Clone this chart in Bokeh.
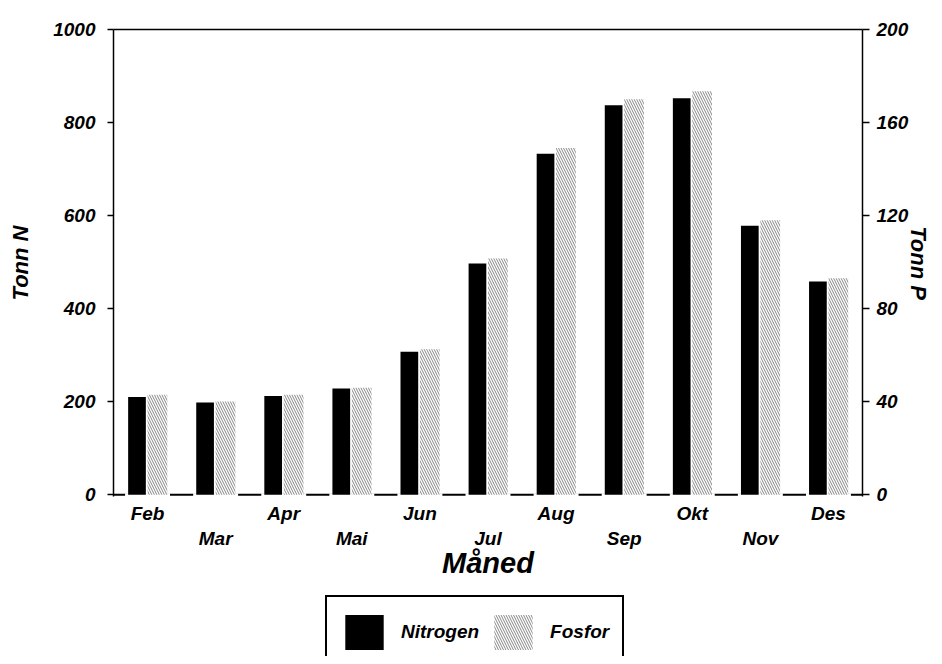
from bokeh.plotting import figure
from bokeh.layouts import column
from bokeh.models import (Range1d, LinearAxis, FixedTicker, Legend, LegendItem,
                          ColumnDataSource, Span)
from bokeh.embed import file_html
from bokeh.resources import INLINE
import numpy as np

months = ["Feb", "Mar", "Apr", "Mai", "Jun", "Jul", "Aug", "Sep", "Okt", "Nov", "Des"]
nitrogen = [210, 198, 212, 228, 307, 497, 733, 837, 852, 578, 458]
fosfor = [43, 40, 43, 46, 62.5, 101.5, 149, 170, 173.5, 118, 93]
n_ticks = [0, 200, 400, 600, 800, 1000]
p_ticks = [0, 40, 80, 120, 160, 200]

FONT = "Liberation Sans"
N_MIN = -4
x = np.arange(len(months))

W = 934
H1 = 585
H2 = 71

p = figure(width=W, height=H1,
           x_range=Range1d(-0.5, len(months) - 0.5),
           y_range=Range1d(N_MIN, n_ticks[-1]),
           x_axis_location=None, y_axis_location=None,
           output_backend="svg", toolbar_location=None,
           min_border_left=113, min_border_right=72,
           min_border_top=29, min_border_bottom=89)
p.extra_y_ranges = {"p": Range1d(N_MIN * p_ticks[-1] / n_ticks[-1], p_ticks[-1])}
p.outline_line_color = None
p.grid.visible = False
p.background_fill_color = "white"
p.border_fill_color = "white"


def style(ax, label_size="22px"):
    ax.axis_line_color = "black"
    ax.axis_line_width = 1.5
    ax.major_tick_line_color = "black"
    ax.major_tick_line_width = 1.5
    ax.major_tick_out = 6
    ax.major_tick_in = 0
    ax.minor_tick_line_color = None
    ax.major_label_text_font = FONT
    ax.major_label_text_font_size = "19px"
    ax.major_label_text_font_style = "bold italic"
    ax.major_label_text_color = "black"
    ax.axis_label_text_font = FONT
    ax.axis_label_text_font_size = label_size
    ax.axis_label_text_font_style = "bold italic"
    ax.axis_label_text_color = "black"


yl = LinearAxis(ticker=FixedTicker(ticks=n_ticks), axis_label="Tonn N")
style(yl)
yl.major_label_standoff = 12
yl.axis_label_standoff = 17
p.add_layout(yl, "left")

yr = LinearAxis(ticker=FixedTicker(ticks=p_ticks), axis_label="Tonn P", y_range_name="p")
style(yr)
yr.major_tick_out = 7
yr.major_label_standoff = 7
yr.axis_label_standoff = -5
try:
    yr.axis_label_orientation = "vertical"
except Exception:
    pass
p.add_layout(yr, "right")

top = LinearAxis(ticker=FixedTicker(ticks=[]))
style(top)
top.major_label_text_font_size = "0px"
top.major_tick_line_color = None
top.major_label_standoff = 0
p.add_layout(top, "above")

even = [int(i) for i in x[::2]]
odd = [int(i) for i in x[1::2]]
bx1 = LinearAxis(ticker=FixedTicker(ticks=even),
                 major_label_overrides={i: months[i] for i in even})
style(bx1)
bx1.axis_line_color = None
bx1.major_tick_line_color = None
bx1.major_tick_out = 0
bx1.major_label_standoff = 6
p.add_layout(bx1, "below")

bx2 = LinearAxis(ticker=FixedTicker(ticks=odd),
                 major_label_overrides={i: months[i] for i in odd},
                 axis_label="Måned")
style(bx2, label_size="29px")
bx2.axis_line_color = None
bx2.major_tick_line_color = None
bx2.major_tick_out = 0
bx2.major_label_standoff = 1
bx2.axis_label_standoff = -5
p.add_layout(bx2, "below")

# baseline (interrupted by white masks under each bar pair)
base = Span(location=0, dimension="width", line_color="black", line_width=2, level="underlay")
p.add_layout(base)

src = ColumnDataSource(dict(x=x, n=nitrogen, f=fosfor))
p.vbar(x="x", width=0.66, bottom=N_MIN, top=3, source=src,
       fill_color="white", line_color=None)

n_style = dict(fill_color="black", line_color=None)
f_style = dict(fill_color="white", line_color=None, hatch_pattern="\\",
               hatch_color="#666666", hatch_weight=0.8, hatch_scale=5)

p.vbar(x=x - 0.155, width=0.26, bottom=0, top=nitrogen, **n_style)
p.vbar(x=x + 0.145, width=0.29, bottom=0, top=fosfor, y_range_name="p", **f_style)

# legend in its own strip below the chart (zero-size proxy glyphs for the swatches)
p2 = figure(width=W, height=H2, x_range=Range1d(0, 1), y_range=Range1d(0, 1),
            x_axis_location=None, y_axis_location=None,
            output_backend="svg", toolbar_location=None,
            min_border=0)
p2.outline_line_color = None
p2.grid.visible = False
p2.background_fill_color = "white"
p2.border_fill_color = "white"
ln = p2.vbar(x=[0], width=0, top=[0], bottom=[0], **n_style)
lf = p2.vbar(x=[0], width=0, top=[0], bottom=[0], **f_style)

legend = Legend(items=[LegendItem(label="Nitrogen", renderers=[ln]),
                       LegendItem(label="Fosfor", renderers=[lf])],
                location=(212, -13), orientation="horizontal",
                glyph_width=48, glyph_height=44, label_standoff=13, spacing=10,
                padding=13, margin=0,
                border_line_color="black", border_line_width=2, border_line_alpha=1,
                background_fill_color="white", background_fill_alpha=1,
                label_text_font=FONT, label_text_font_size="19px",
                label_text_font_style="bold italic", label_text_color="black")
p2.add_layout(legend)

layout = column(p, p2, spacing=0)
open("out.html", "w").write(file_html(layout, INLINE))
